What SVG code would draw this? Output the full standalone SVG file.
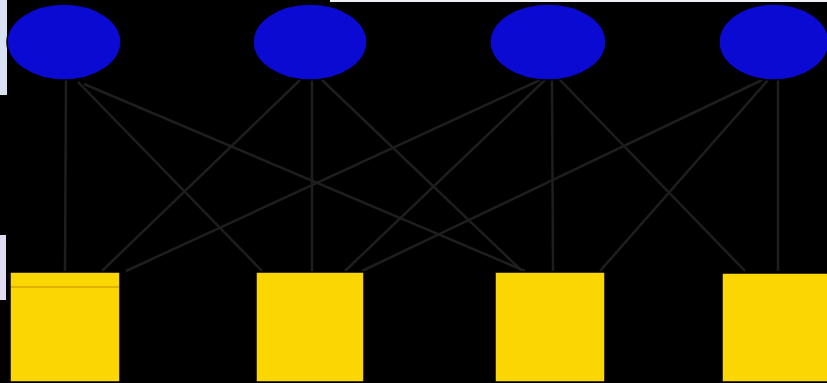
<svg xmlns="http://www.w3.org/2000/svg" width="827" height="383" viewBox="0 0 827 383">
<style>
.bg{fill:#000}
.top{fill:#0a0ad2;stroke:#000;stroke-width:1.5}
.bot{fill:#fbd600;stroke:#000;stroke-width:1.5}
.edge{stroke:#1e1e1e;stroke-width:2.5;fill:none}
</style>
<rect class="bg" x="0" y="0" width="827" height="383"/>
<rect x="0" y="0" width="7" height="95" fill="#d8e2f2"/>
<rect x="0" y="235" width="6" height="65" fill="#e2dcf2"/>
<rect x="330" y="0" width="497" height="2" fill="#eef0f6"/>
<g id="edges">
<line class="edge" x1="66" y1="80" x2="65" y2="271"/>
<line class="edge" x1="78" y1="82" x2="262" y2="271"/>
<line class="edge" x1="84" y1="84" x2="525" y2="271"/>
<line class="edge" x1="300" y1="80" x2="102" y2="271"/>
<line class="edge" x1="312" y1="80" x2="312" y2="271"/>
<line class="edge" x1="322" y1="80" x2="522" y2="271"/>
<line class="edge" x1="540" y1="80" x2="126" y2="271"/>
<line class="edge" x1="545" y1="80" x2="345" y2="271"/>
<line class="edge" x1="552" y1="80" x2="553" y2="271"/>
<line class="edge" x1="560" y1="80" x2="745" y2="271"/>
<line class="edge" x1="762" y1="80" x2="362" y2="271"/>
<line class="edge" x1="768" y1="80" x2="600" y2="271"/>
<line class="edge" x1="778" y1="80" x2="778" y2="271"/>
</g>
<g id="n1"><ellipse class="top" cx="64" cy="42" rx="57" ry="38"/></g>
<g id="n2"><ellipse class="top" cx="310" cy="42" rx="57" ry="38"/></g>
<g id="n3"><ellipse class="top" cx="548" cy="42" rx="58" ry="38"/></g>
<g id="n4"><ellipse class="top" cx="774" cy="42" rx="55" ry="38"/></g>
<g id="s1"><rect class="bot" x="10" y="272" width="110" height="110"/><line x1="11" y1="287" x2="119" y2="287" stroke="#d9a400" stroke-width="1.5"/></g>
<g id="s2"><rect class="bot" x="256" y="272" width="108" height="110"/></g>
<g id="s3"><rect class="bot" x="495" y="272" width="110" height="110"/></g>
<g id="s4"><rect class="bot" x="722" y="273" width="106" height="109"/></g>
</svg>
